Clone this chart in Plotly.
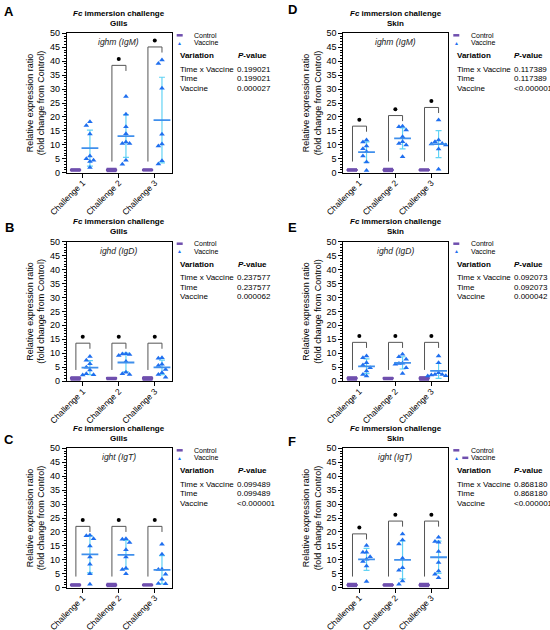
import numpy as np
import plotly.graph_objects as go

challenges = ["Challenge 1", "Challenge 2", "Challenge 3"]
variations = ["Time x Vaccine", "Time", "Vaccine"]

# vaccine group, fold change from control, one list per challenge
gills_ighm = [[18.3, 16.9, 13.9, 6.0, 5.0, 4.5, 4.0, 1.9],
              [27.3, 21.0, 16.5, 14.0, 11.0, 10.5, 10.5, 4.5, 3.0],
              [40.4, 39.2, 30.3, 13.8, 10.3, 9.6, 4.3, 3.1]]
gills_ighd = [[8.8, 7.5, 6.2, 5.0, 4.0, 2.6, 2.3, 2.2],
              [9.8, 9.7, 9.5, 9.2, 7.0, 3.2, 2.6, 2.4],
              [8.4, 8.2, 6.0, 5.6, 4.2, 3.0, 2.4, 1.4]]
gills_ight = [[18.8, 18.6, 17.6, 15.0, 11.0, 8.4, 5.0, 1.2],
              [17.6, 17.4, 16.2, 13.6, 11.0, 7.0, 6.5, 5.0],
              [15.6, 12.0, 6.6, 6.5, 4.8, 3.0, 1.5, 1.4]]
skin_ighm = [[11.7, 11.0, 9.6, 8.6, 7.5, 6.0, 3.8, 0.8],
             [16.7, 16.5, 15.3, 12.9, 11.1, 10.5, 9.9, 5.7],
             [18.9, 11.7, 11.1, 10.5, 10.3, 9.9, 8.5, 1.2]]
skin_ighd = [[9.0, 8.4, 6.6, 5.8, 4.8, 3.6, 2.4, 1.8],
             [9.6, 8.7, 7.8, 6.4, 6.3, 6.0, 4.8, 2.7],
             [9.0, 6.6, 3.0, 2.4, 2.4, 2.2, 1.9, 1.8]]
skin_ight = [[15.1, 12.7, 12.7, 11.1, 10.2, 9.4, 7.8, 2.2],
             [19.3, 17.1, 15.7, 10.6, 7.2, 6.3, 2.4, 1.2],
             [18.1, 16.6, 16.3, 13.0, 9.0, 6.0, 4.8, 3.6]]

# control group (normalised to 1)
ctrl_a = [[0.7, 0.9, 1.0, 1.0, 1.1, 1.1, 1.2, 1.0],
          [0.5, 0.8, 1.0, 1.1, 1.2, 1.4, 1.0, 1.0],
          [0.8, 0.9, 1.0, 1.0, 1.1, 1.2, 1.0, 1.0]]
ctrl_b = [[0.5, 0.8, 1.0, 1.1, 1.2, 1.4, 1.0, 1.0],
          [0.7, 0.9, 1.0, 1.0, 1.1, 1.2, 1.1, 1.0],
          [0.5, 0.7, 1.0, 1.1, 1.3, 1.4, 1.0, 1.0]]

# P-values per panel (Time x Vaccine, Time, Vaccine)
p_gills_ighm = ["0.199021", "0.199021", "0.000027"]
p_gills_ighd = ["0.237577", "0.237577", "0.000062"]
p_gills_ight = ["0.099489", "0.099489", "<0.000001"]
p_skin_ighm = ["0.117389", "0.117389", "<0.000001"]
p_skin_ighd = ["0.092073", "0.092073", "0.000042"]
p_skin_ight = ["0.868180", "0.868180", "<0.000001"]

# significance bracket heights (None = not significant)
br_gills_ighm = [None, 38.5, 45.1]
br_gills_ighd = [13.6, 13.6, 13.6]
br_gills_ight = [22.0, 22.0, 22.0]
br_skin_ighm = [16.7, 20.5, 23.4]
br_skin_ighd = [13.9, 13.9, 13.9]
br_skin_ight = [19.3, 23.9, 23.9]

W, H = 550, 630
PW, PH = 105, 139.4
FONT = "Liberation Sans, Arial, sans-serif"
PURPLE = "#6f4fae"
LPURPLE = "#bba8de"
BLUE = "#1f6fef"
MEANBLUE = "#3f8fec"
CYAN = "#62d3f4"


def px(x):
    return x / W


def py(y):
    return 1 - y / H


def swarm(vals, step=0.1, gap=1.8):
    placed, xs = [], []
    for v in vals:
        for k in [0, -1, 1, -2, 2, -3, 3]:
            if all(abs(v - pv) >= gap for pk, pv in placed if pk == k):
                break
        placed.append((k, v))
        xs.append(k * step)
    return xs


panels = [
    dict(letter="A", tissue="Gills", gene="ighm (IgM)", vac=gills_ighm, ctrl=ctrl_a,
         pv=p_gills_ighm, br=br_gills_ighm, left=66.7, top=33.3, lxy=(9, 11)),
    dict(letter="B", tissue="Gills", gene="ighd (IgD)", vac=gills_ighd, ctrl=ctrl_b,
         pv=p_gills_ighd, br=br_gills_ighd, left=66.7, top=241.7, lxy=(9, 227)),
    dict(letter="C", tissue="Gills", gene="ight (IgT)", vac=gills_ight, ctrl=ctrl_a,
         pv=p_gills_ight, br=br_gills_ight, left=66.7, top=448.3, lxy=(9, 439)),
    dict(letter="D", tissue="Skin", gene="ighm (IgM)", vac=skin_ighm, ctrl=ctrl_a,
         pv=p_skin_ighm, br=br_skin_ighm, left=343.3, top=33.3, lxy=(292, 10)),
    dict(letter="E", tissue="Skin", gene="ighd (IgD)", vac=skin_ighd, ctrl=ctrl_b,
         pv=p_skin_ighd, br=br_skin_ighd, left=343.3, top=241.7, lxy=(292, 227)),
    dict(letter="F", tissue="Skin", gene="ight (IgT)", vac=skin_ight, ctrl=ctrl_b,
         pv=p_skin_ight, br=br_skin_ight, left=343.3, top=448.3, lxy=(292, 442)),
]


def note(x, y, text, size, anchor="left"):
    return dict(x=px(x), y=py(y), xref="paper", yref="paper", text=text, showarrow=False,
                font=dict(size=size, color="black"), xanchor=anchor, yanchor="middle")


fig = go.Figure()
annotations = []
shapes = []

for i, p in enumerate(panels):
    n = "" if i == 0 else str(i + 1)
    xa, ya = "x" + n, "y" + n
    left, top = p["left"], p["top"]
    right, bottom = left + PW, top + PH

    fig.update_layout(**{
        "xaxis" + n: dict(domain=[px(left), px(right)], range=[0.555, 3.47], anchor=ya,
                          tickvals=[1, 2, 3], ticktext=challenges, tickangle=-45,
                          ticks="outside", ticklen=4, tickcolor="black", ticklabelstandoff=-3,
                          showline=True, mirror=True, linecolor="black", linewidth=1,
                          showgrid=False, zeroline=False, fixedrange=True, automargin=False,
                          tickfont=dict(size=8.5, color="black")),
        "yaxis" + n: dict(domain=[py(bottom), py(top)], range=[0, 50], anchor=xa,
                          dtick=5, ticks="outside", ticklen=4, tickcolor="black",
                          minor=dict(dtick=1, ticklen=2, ticks="outside", tickcolor="black",
                                     showgrid=False),
                          showline=True, mirror=True, linecolor="black", linewidth=1,
                          showgrid=False, zeroline=False, fixedrange=True, automargin=False,
                          tickfont=dict(size=9, color="black"),
                          title=dict(text="Relative expression ratio<br>(fold change from Control)",
                                     font=dict(size=9, color="black"), standoff=3)),
    })

    # control
    cx, cy = [], []
    for g, vals in enumerate(p["ctrl"]):
        cx += [g + 1 - 0.2] * len(vals)
        cy += vals
    fig.add_trace(go.Scatter(x=[g + 0.8 for g in range(3)],
                             y=[np.mean(v) for v in p["ctrl"]],
                             mode="markers", xaxis=xa, yaxis=ya, showlegend=False,
                             marker=dict(symbol="line-ew", size=8, color=PURPLE,
                                         line=dict(width=2, color=PURPLE)),
                             error_y=dict(type="data", array=[np.std(v, ddof=1) for v in p["ctrl"]],
                                          color=LPURPLE, thickness=1.2, width=3)))
    fig.add_trace(go.Scatter(x=cx, y=cy, mode="markers", xaxis=xa, yaxis=ya, showlegend=False,
                             marker=dict(symbol="line-ew", size=7, color=PURPLE,
                                         line=dict(width=2, color=PURPLE))))

    # vaccine
    means = [np.mean(v) for v in p["vac"]]
    sds = [np.std(v, ddof=1) for v in p["vac"]]
    fig.add_trace(go.Scatter(x=[g + 1.2 for g in range(3)], y=means, mode="markers",
                             xaxis=xa, yaxis=ya, showlegend=False,
                             marker=dict(size=0.1, color=CYAN),
                             error_y=dict(type="data", array=sds, color=CYAN, thickness=1.2, width=3)))
    vx, vy = [], []
    for g, vals in enumerate(p["vac"]):
        vx += [g + 1.2 + o for o in swarm(vals)]
        vy += vals
    fig.add_trace(go.Scatter(x=vx, y=vy, mode="markers", xaxis=xa, yaxis=ya, showlegend=False,
                             marker=dict(symbol="triangle-up", size=5, color=BLUE)))
    fig.add_trace(go.Scatter(x=[g + 1.2 for g in range(3)], y=means, mode="markers",
                             xaxis=xa, yaxis=ya, showlegend=False,
                             marker=dict(symbol="line-ew", size=12,
                                         line=dict(width=1.8, color=MEANBLUE))))

    # significance brackets
    bx, by, sx, sy = [], [], [], []
    for g, t in enumerate(p["br"]):
        if t is None:
            continue
        bx += [g + 0.81, g + 0.81, g + 1.2, g + 1.2, None]
        by += [4, t, t, t - 2, None]
        sx.append(g + 1)
        sy.append(t + 2.3)
    fig.add_trace(go.Scatter(x=bx, y=by, mode="lines", xaxis=xa, yaxis=ya, showlegend=False,
                             line=dict(color="#555555", width=1)))
    fig.add_trace(go.Scatter(x=sx, y=sy, mode="markers", xaxis=xa, yaxis=ya, showlegend=False,
                             marker=dict(symbol="circle", size=4, color="black")))

    # gene label inside plot
    annotations.append(dict(x=2, y=46.8, xref=xa, yref=ya, text="<i>%s</i>" % p["gene"],
                            showarrow=False, xanchor="center",
                            font=dict(size=8.5, color="#222222")))

    # titles and panel letter
    mid = left + PW / 2
    annotations.append(note(mid, top - 20, "<b><i>Fc</i> immersion challenge</b>", 8, "center"))
    annotations.append(note(mid, top - 10, "<b>%s</b>" % p["tissue"], 8, "center"))
    annotations.append(note(p["lxy"][0], p["lxy"][1], "<b>%s</b>" % p["letter"], 13, "center"))

    # legend
    shapes.append(dict(type="line", xref="paper", yref="paper",
                       x0=px(right + 5), x1=px(right + 11), y0=py(top + 2), y1=py(top + 2),
                       line=dict(color=PURPLE, width=2.5)))
    tri = note(right + 8, top + 9.5, "▲", 5, "center")
    tri["font"]["color"] = BLUE
    annotations.append(tri)
    if p["letter"] == "F":
        shapes.append(dict(type="line", xref="paper", yref="paper",
                           x0=px(right + 14), x1=px(right + 20), y0=py(top + 9.5), y1=py(top + 9.5),
                           line=dict(color=PURPLE, width=2.5)))
    annotations.append(note(right + 20.5, top + 2, "Control", 7))
    annotations.append(note(right + 20.5, top + 9.5, "Vaccine", 7))
    annotations.append(note(right + 6.5, top + 22.5, "<b>Variation</b>", 8))
    annotations.append(note(right + 64, top + 22.5, "<b><i>P</i>-value</b>", 8))
    for k, dy in enumerate([36, 45.5, 55]):
        annotations.append(note(right + 6.5, top + dy, variations[k], 8))
        annotations.append(note(right + 63.5, top + dy, p["pv"][k], 8))

fig.update_layout(width=W, height=H, margin=dict(l=0, r=0, t=0, b=0),
                  paper_bgcolor="white", plot_bgcolor="white",
                  font=dict(family=FONT, color="black"),
                  annotations=annotations, shapes=shapes, showlegend=False)

# drop the default page margin so the figure sits at the window corner
fig.write_html("out.html", config={"displayModeBar": False},
               post_script="document.body.style.margin='0';document.body.style.overflow='hidden';")
